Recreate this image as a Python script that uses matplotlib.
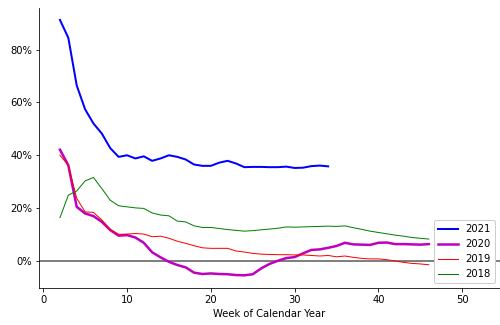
import matplotlib
matplotlib.use("Agg")
import matplotlib.pyplot as plt
from matplotlib.ticker import PercentFormatter

weeks_2021 = list(range(2, 35))
y2021 = [91.2, 84.4, 66.4, 57.4, 52.0, 48.2, 42.7, 39.4, 40.0, 38.8, 39.6, 37.9, 38.8,
         40.0, 39.4, 38.4, 36.5, 36.0, 36.0, 37.2, 37.9, 36.9, 35.5, 35.6, 35.6, 35.5,
         35.5, 35.7, 35.2, 35.3, 35.9, 36.1, 35.8]

weeks_other = list(range(2, 47))
y2020 = [42.1, 36.2, 20.5, 18.0, 17.0, 14.8, 11.7, 9.6, 9.8, 8.9, 6.9, 3.3, 1.4,
         -0.3, -1.5, -2.4, -4.4, -4.9, -4.7, -4.9, -5.0, -5.3, -5.4, -5.0, -2.8, -1.1,
         0.1, 1.1, 1.5, 2.9, 4.2, 4.4, 5.0, 5.7, 6.9, 6.3, 6.2, 6.1, 6.9, 7.0, 6.4,
         6.4, 6.3, 6.2, 6.4]
y2019 = [40.0, 36.2, 23.7, 18.6, 18.4, 15.5, 12.0, 10.1, 10.2, 10.4, 10.2, 9.2, 9.4,
         8.6, 7.5, 6.7, 5.8, 5.0, 4.8, 4.8, 4.8, 3.8, 3.4, 2.9, 2.6, 2.5, 2.4, 2.4,
         2.3, 2.3, 2.1, 1.9, 2.1, 1.6, 1.9, 1.4, 1.0, 0.8, 0.8, 0.5, 0.0, -0.5, -0.9,
         -1.1, -1.4]
y2018 = [16.4, 24.9, 26.5, 30.3, 31.6, 27.4, 23.0, 20.9, 20.5, 20.1, 19.9, 18.2, 17.4,
         17.1, 15.1, 14.8, 13.3, 12.7, 12.7, 12.3, 11.9, 11.6, 11.3, 11.5, 11.8, 12.1,
         12.4, 12.9, 12.8, 12.9, 13.0, 13.1, 13.2, 13.1, 13.3, 12.6, 12.0, 11.3, 10.8,
         10.3, 9.8, 9.4, 8.9, 8.6, 8.3]

fig = plt.figure(figsize=(500 / 72, 325 / 72), dpi=72)
ax = fig.add_axes([39 / 500, 37 / 325, 461 / 500, 280 / 325])

ax.axhline(0, color="gray", lw=2, zorder=1)
ax.plot(weeks_2021, y2021, color="blue", lw=2, label="2021")
ax.plot(weeks_other, y2020, color="m", lw=2.5, label="2020")
ax.plot(weeks_other, y2019, color="red", lw=1, label="2019")
ax.plot(weeks_other, y2018, color="green", lw=1, label="2018")

ax.set_xlim(-0.5, 54.5)
ax.set_ylim(-10.2, 95.7)
ax.set_xticks([0, 10, 20, 30, 40, 50])
ax.set_yticks([0, 20, 40, 60, 80])
ax.yaxis.set_major_formatter(PercentFormatter(xmax=100, decimals=0))
ax.set_xlabel("Week of Calendar Year")
ax.spines["top"].set_visible(False)
ax.spines["right"].set_visible(False)
ax.legend(loc="lower right", framealpha=1)

fig.savefig("out.png", dpi=72)
